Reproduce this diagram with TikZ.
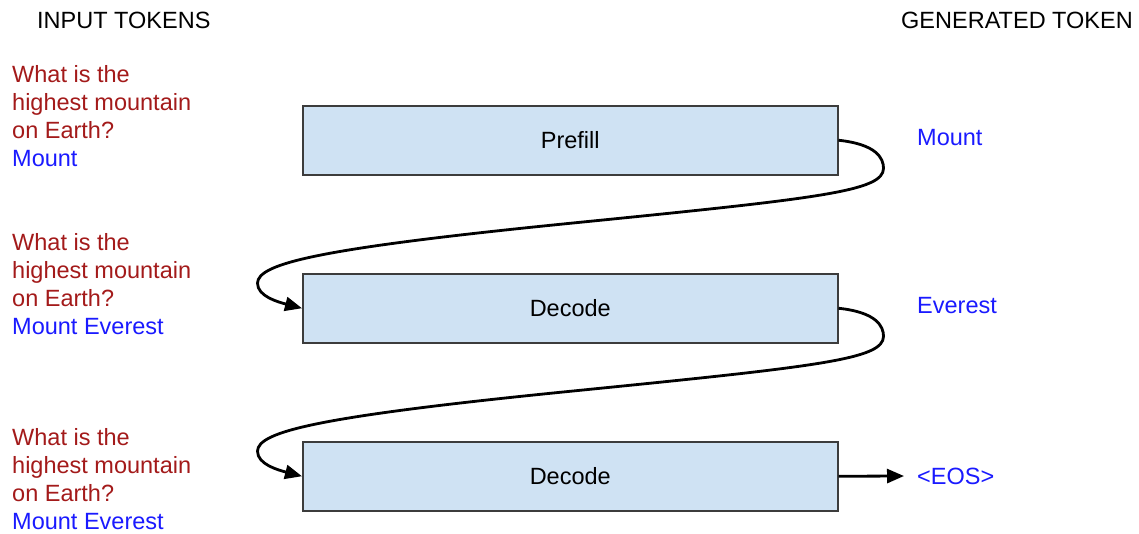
\documentclass[tikz,border=0pt]{standalone}
\usepackage{fontspec}
\setmainfont{Liberation Sans}
\usetikzlibrary{arrows.meta}
\definecolor{qred}{HTML}{A31A1A}
\definecolor{tokblue}{HTML}{1A1AFF}
\definecolor{boxfill}{HTML}{CFE2F3}
\definecolor{boxline}{HTML}{3C3C3C}
\begin{document}
\begin{tikzpicture}[x=1pt,y=-1pt,
  every node/.style={font=\fontsize{23.5}{28}\selectfont, inner sep=0pt},
  stagebox/.style={draw=boxline, line width=1.5pt, fill=boxfill, minimum width=535pt, minimum height=69pt, anchor=north west},
  head/.style={anchor=base west, text=black},
  prompt/.style={anchor=base west, align=left, text=qred},
  gen/.style={anchor=west, text=tokblue},
  flow/.style={line width=2.8pt, -{Triangle[length=17pt,width=14pt]}}]
\useasboundingbox (0,0) rectangle (1139,533);

% headings
\node[head] (hin) at (37,28) {INPUT TOKENS};
\node[head] (hout) at (901,28) {GENERATED TOKEN};

% prompt columns (anchored at the baseline of the last line)
\node[prompt] (p1) at (12,166) {What is the\\highest mountain\\on Earth?\\\textcolor{tokblue}{Mount}};
\node[prompt] (p2) at (12,334) {What is the\\highest mountain\\on Earth?\\\textcolor{tokblue}{Mount Everest}};
\node[prompt] (p3) at (12,529) {What is the\\highest mountain\\on Earth?\\\textcolor{tokblue}{Mount Everest}};

% model stages
\node[stagebox] (s1) at (302,105) {};
\node at (s1.center) {Prefill};
\node[stagebox] (s2) at (302,273) {};
\node at (s2.center) {Decode};
\node[stagebox] (s3) at (302,441) {};
\node at (s3.center) {Decode};

% generated tokens
\node[gen] (g1) at (917,138) {Mount};
\node[gen] (g2) at (917,306) {Everest};
\node[gen] (g3) at (917,476) {<EOS>};

% feedback loops from each stage into the next one
\draw[flow] (s1.east) .. controls +(38,4) and +(0,-10) .. ++(45,28)
  .. controls +(0,23) and +(250,-25) .. ++(-313,55)
  .. controls +(-250,25) and +(0,-20) .. ++(-313,60)
  .. controls +(0,13) and (278,302) .. (s2.west);
\draw[flow] (s2.east) .. controls +(38,4) and +(0,-10) .. ++(45,28)
  .. controls +(0,23) and +(250,-25) .. ++(-313,55)
  .. controls +(-250,25) and +(0,-20) .. ++(-313,60)
  .. controls +(0,13) and (278,470) .. (s3.west);

% end of generation
\draw[flow] (s3.east) -- (g3.west -| 904,0);
\end{tikzpicture}
\end{document}
